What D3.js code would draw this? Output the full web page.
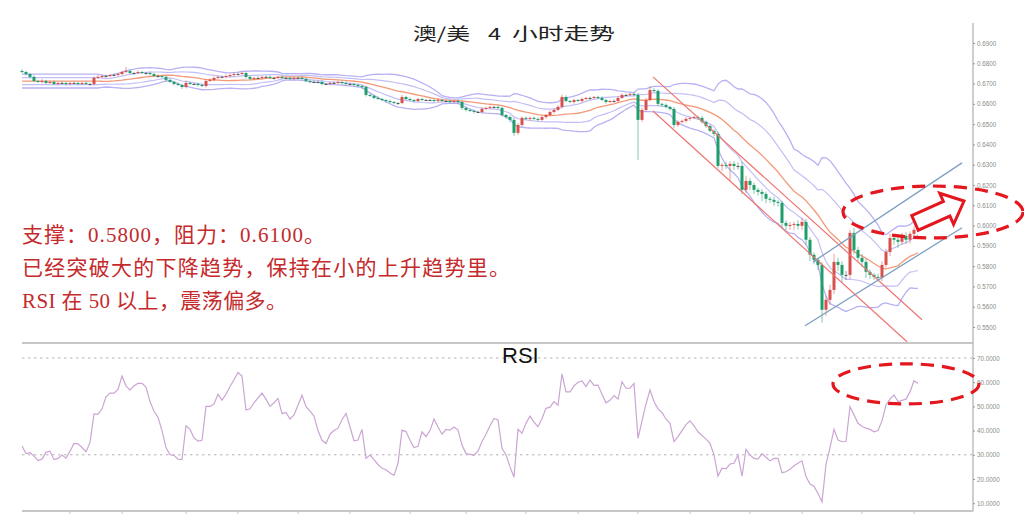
<!DOCTYPE html>
<html><head><meta charset="utf-8">
<script src="https://cdn.jsdelivr.net/npm/d3@7"></script>
<style>
html,body{margin:0;padding:0;background:#fff;}
svg{display:block;}
</style></head><body>
<svg id="c" width="1024" height="514"></svg>
<script>
// ---------- data ----------
const titleParts = ["澳/美", "4", "小时走势"];
const notes = ["支撑：0.5800，阻力：0.6100。", "已经突破大的下降趋势，保持在小的上升趋势里。", "RSI 在 50 以上，震荡偏多。"];
const rsiLabel = "RSI";
const priceTicks = [0.55,0.56,0.57,0.58,0.59,0.60,0.61,0.62,0.63,0.64,0.65,0.66,0.67,0.68,0.69];
const rsiTicks = [10,20,30,40,50,60,70];
const rsiLevels = [30,70];
const firstOpen = 0.6762;
const closes = [
.6757,.6747,.6733,.6713,.6708,.6713,.6703,.6708,.6698,.6703,.6703,.6698,.6703,.6703,.6698,
.6703,.6698,.6698,.6728,.6733,.6737,.6737,.6742,.6742,.6747,.6757,.6762,.6752,.6752,.6757,
.6752,.6752,.6747,.6737,.6737,.6733,.6718,.6708,.6698,.6693,.6683,.6703,.6698,.6698,.6693,
.6688,.6713,.6718,.6728,.6733,.6733,.6737,.6742,.6747,.6747,.6752,.6733,.6723,.6728,.6728,
.6733,.6733,.6728,.6728,.6733,.6728,.6728,.6723,.6728,.6728,.6723,.6713,.6708,.6708,.6708,
.6698,.6698,.6703,.6703,.6708,.6703,.6698,.6698,.6693,.6688,.6683,.6644,.6639,.6629,.6624,
.6619,.6614,.6609,.6604,.6604,.6634,.6624,.6619,.6614,.6624,.6619,.6619,.6619,.6614,.6619,
.6614,.6614,.6609,.6614,.6609,.6580,.6570,.6565,.6560,.6560,.6575,.6580,.6585,.6585,.6580,
.6545,.6535,.6521,.6457,.6496,.6531,.6526,.6531,.6526,.6521,.6535,.6545,.6560,.6570,.6585,
.6634,.6614,.6609,.6619,.6614,.6624,.6629,.6629,.6634,.6629,.6619,.6609,.6614,.6614,.6629,
.6644,.6644,.6649,.6644,.6521,.6570,.6619,.6668,.6664,.6600,.6595,.6585,.6575,.6496,.6511,
.6516,.6526,.6531,.6535,.6531,.6511,.6491,.6467,.6452,.6294,.6299,.6294,.6304,.6294,.6294,
.6176,.6220,.6200,.6176,.6166,.6156,.6132,.6127,.6117,.6112,.6013,.5999,.6003,.6008,.5999,
.6018,.5930,.5856,.5831,.5806,.5585,.5634,.5683,.5821,.5806,.5757,.5757,.5964,.5880,.5841,
.5821,.5772,.5757,.5747,.5742,.5806,.5870,.5939,.5930,.5920,.5949,.5930,.5959,.5979,.6003];
// wick lengths beyond the body, in pips
const upperWick = [
8,6,5,7,6,9,5,6,7,5,8,6,5,7,6,
5,7,6,8,9,6,7,5,8,6,6,20,7,6,8,
6,5,7,6,8,5,7,6,5,8,6,12,7,5,6,
7,9,8,6,7,5,8,6,7,9,6,5,7,6,8,
6,5,7,6,5,8,6,7,5,6,7,6,5,8,6,
7,5,6,8,6,5,7,6,5,8,6,7,5,6,8,
6,5,7,6,5,10,6,8,5,7,6,5,7,6,8,
5,6,7,5,6,8,6,5,7,6,9,6,7,5,8,
7,6,8,10,9,8,6,5,7,6,8,6,7,9,10,
12,8,6,7,5,8,6,7,5,6,9,7,6,8,10,
8,6,7,5,10,12,10,20,9,8,6,7,5,10,8,
7,9,6,8,7,10,6,8,7,12,10,15,12,14,16,
20,25,15,12,10,14,12,10,15,8,10,12,14,10,18,
20,15,14,12,10,15,20,25,40,20,18,20,15,25,15,
20,15,12,10,15,18,15,20,15,20,15,18,12,15,10];
const lowerWick = [
6,8,7,5,6,8,7,5,6,7,5,8,6,5,7,
6,5,7,8,6,5,7,6,5,8,6,7,5,6,7,
5,7,6,5,8,6,7,5,8,6,9,7,5,6,8,
6,8,5,7,6,5,7,6,8,5,6,9,7,6,5,
7,6,5,8,6,7,5,6,8,7,5,6,7,6,5,
8,6,7,5,6,8,7,5,6,7,10,8,6,7,5,
6,8,7,5,9,6,7,5,8,6,7,5,6,8,7,
6,5,7,6,8,10,7,6,8,5,7,6,5,8,6,
8,10,12,15,10,7,6,8,5,7,6,8,5,7,6,
8,7,6,8,5,7,6,8,5,7,6,8,5,7,6,
5,7,6,8,197,10,8,6,7,12,10,8,9,15,10,
8,7,10,6,9,8,10,7,12,10,25,15,70,20,18,
20,15,25,20,18,35,22,15,20,18,25,22,20,24,18,
20,25,30,22,25,64,30,25,20,30,35,25,20,22,18,
25,30,20,15,18,15,12,20,25,30,15,20,18,12,10];
const rsi = [
33.6,30.5,30.9,29.5,27.6,28.2,31,31.5,28,28.5,29.9,28.6,31.5,34.7,34.5,
33,31.3,35,46.9,46.7,49,54,55.5,55.5,57,62.5,58.5,56.8,58.5,59.5,
59.5,58,52,48,45.5,40,33,30,29.8,28.2,28,42,40.5,37,35.7,
36,50,50,51,55,52.6,55,58.2,61,64,62.5,48.5,49,51.5,53.5,
55.5,53,50,51.5,53.3,47,47.5,44.8,46.5,50.5,54.6,50,48,46,40,
36,34.7,38.5,40,41,44.5,47.1,41.5,35.8,36.1,40.5,28.5,29.9,28,26,
24.4,23.8,22.5,21.5,26.5,40.2,39.6,36,33,33.5,39.5,37.5,40,44.8,41.5,
38.5,40.5,40.2,41.5,40.2,34,30.5,30.2,29.8,31.5,35.5,38.5,42,45,44.4,
32.7,30,25,20.7,40.5,38.9,43,46,43.5,41.6,45,49.2,49.7,52,50.5,
63.4,56,56,58.5,60,60.5,58.2,60.9,58.7,58.8,55,51.5,52.5,54.5,53,
60.2,57.5,57.5,59.5,36.8,44,51,56.8,52,49,47.5,44.7,43,35.4,37.5,
40,42.5,44,42,39.5,38,36.5,34.7,30,21.2,24.5,24.2,26.2,26.5,29.9,
21.2,32.3,29.9,28.5,28.2,30.5,29,27.5,28.5,28.5,22.6,23,24,25.5,26.5,
27.5,21,17.9,17,14,10.6,26,33,40.5,36.1,35.4,35.5,49.9,46.5,43,
41.8,41,40.5,39.5,40,44,50.6,53,54.7,52,52.5,53,56,60.6,59.5];
const timeTicks = [12,25,41,54,69,82,97,111,126,139,154,167,182,195,210,223];
const bbPeriod = 20;
// drawn annotations, in (bar index, price / rsi) terms
const channelDown = [[[157.75,0.6733],[225,0.5536]], [[157.75,0.6565],[221.25,0.5427]]];
const channelUp = [[[197.75,0.5821],[235,0.6309]], [[195.75,0.5506],[235,0.5989]]];
const focusPrice = {cx:227.75, cy:0.6067, rx:22.5, ry:0.0128};
const focusRsi = {cx:221, cy:59.3, rx:18.25, ry:8.3};
const arrowPts = [[223.25,0.6013],[235.5,0.6121]];

// ---------- layout ----------
const L = 22, R = 918, AX = 973, TOP = 23, SEP = 343, BOT = 511;
const svg = d3.select("#c");
const N = closes.length;
const x = d3.scaleLinear().domain([0, N-1]).range([L, R]);
const y = d3.scaleLinear().domain([0.55, 0.69]).range([327, 43]);
const yr = d3.scaleLinear().domain([10, 70]).range([503.2, 358]);
const pip = 0.0001;

const bars = closes.map((c,i)=>{
  const o = i ? closes[i-1] : firstOpen;
  return {i, o, c, h: Math.max(o,c)+upperWick[i]*pip, l: Math.min(o,c)-lowerWick[i]*pip};
});

// Bollinger bands (1 and 2 sigma) from closes
const bb = closes.map((c,i)=>{
  const a = Math.max(0, i-bbPeriod+1), b = Math.max(i+1, Math.min(bbPeriod, N));
  const w = closes.slice(a, b);
  const m = d3.mean(w), s = Math.sqrt(d3.mean(w, v=>(v-m)*(v-m)));
  return {i, m, s};
});

// ---------- frame ----------
const frame = svg.append("g").attr("stroke","#b4b4b4").attr("fill","none");
frame.append("line").attr("x1",AX).attr("x2",AX).attr("y1",TOP).attr("y2",BOT).attr("stroke-width",1.3);
frame.append("line").attr("x1",L).attr("x2",AX).attr("y1",SEP).attr("y2",SEP).attr("stroke-width",1.6);
frame.append("line").attr("x1",L).attr("x2",AX).attr("y1",BOT).attr("y2",BOT).attr("stroke-width",1.6);
svg.append("g").selectAll("line").data(timeTicks).join("line")
  .attr("x1",d=>x(d)).attr("x2",d=>x(d)).attr("y1",BOT).attr("y2",BOT+3)
  .attr("stroke","#c4c4c4").attr("stroke-width",1);

// ---------- axes ----------
function styleAxis(g){
  g.select(".domain").remove();
  g.selectAll(".tick line").attr("stroke","#9a9a9a");
  g.selectAll(".tick text").attr("fill","#8c8c8c").style("font-family","'Liberation Sans',Arial,sans-serif").style("font-size","6.3px");
}
svg.append("g").attr("transform",`translate(${AX},0)`)
  .call(d3.axisRight(y).tickValues(priceTicks).tickFormat(d3.format(".4f")).tickSize(2).tickPadding(2))
  .call(styleAxis);
svg.append("g").attr("transform",`translate(${AX},0)`)
  .call(d3.axisRight(yr).tickValues(rsiTicks).tickFormat(d3.format(".4f")).tickSize(2).tickPadding(2))
  .call(styleAxis);

// ---------- bands ----------
const bandLines = [
  {k:2, color:"#b7b2f3", w:1.3}, {k:1, color:"#c3bff6", w:1.2},
  {k:-1, color:"#c3bff6", w:1.2}, {k:-2, color:"#b7b2f3", w:1.3},
  {k:0, color:"#f39a78", w:1.3}
];
const bandG = svg.append("g").attr("fill","none");
bandLines.forEach(b=>{
  bandG.append("path").datum(bb)
    .attr("d", d3.line().x(d=>x(d.i)).y(d=>y(d.m + b.k*d.s)))
    .attr("stroke", b.color).attr("stroke-width", b.w);
});

// ---------- candles ----------
const upC = "#d8504c", dnC = "#1f9d6b", flatC = "#4d5a55";
const col = d=> d.c>d.o ? upC : (d.c<d.o ? dnC : flatC);
const cg = svg.append("g");
cg.selectAll("line").data(bars).join("line")
  .attr("x1",d=>x(d.i)).attr("x2",d=>x(d.i)).attr("y1",d=>y(d.h)).attr("y2",d=>y(d.l))
  .attr("stroke",d=>col(d)).attr("stroke-opacity",0.55).attr("stroke-width",1);
cg.selectAll("rect").data(bars).join("rect")
  .attr("x",d=>x(d.i)-1.5).attr("width",3)
  .attr("y",d=>y(Math.max(d.o,d.c)))
  .attr("height",d=>Math.max(1, Math.abs(y(d.o)-y(d.c))))
  .attr("fill",d=>col(d));

// ---------- trend channels ----------
const tl = d3.line().x(d=>x(d[0])).y(d=>y(d[1]));
svg.append("g").selectAll("path").data(channelDown).join("path")
  .attr("d",tl).attr("fill","none").attr("stroke","#ef7470").attr("stroke-width",1.2);
svg.append("g").selectAll("path").data(channelUp).join("path")
  .attr("d",tl).attr("fill","none").attr("stroke","#7d9fc2").attr("stroke-width",1.3);

// ---------- RSI ----------
const lg = svg.append("g").attr("stroke","#b9b0b9").attr("stroke-dasharray","2.5,3.5").attr("stroke-width",1);
lg.selectAll("line").data(rsiLevels).join("line")
  .attr("x1",L).attr("x2",AX).attr("y1",d=>yr(d)).attr("y2",d=>yr(d));
svg.append("path").datum(rsi)
  .attr("d", d3.line().x((d,i)=>x(i)).y(d=>yr(d)))
  .attr("fill","none").attr("stroke","#cba5d3").attr("stroke-width",1.2);
svg.append("text").attr("x",502).attr("y",363).text(rsiLabel)
  .style("font-family","'Liberation Sans',Arial,sans-serif").style("font-size","22px").attr("fill","#111");

// ---------- annotations ----------
const red = "#e3171d";
function ell(sx, sy, e){
  svg.append("ellipse").attr("cx",sx(e.cx)).attr("cy",sy(e.cy))
    .attr("rx", sx(e.cx+e.rx)-sx(e.cx)).attr("ry", Math.abs(sy(e.cy-e.ry)-sy(e.cy)))
    .attr("fill","none").attr("stroke",red).attr("stroke-width",3.2).attr("stroke-dasharray","13,8");
}
ell(x, y, focusPrice);
ell(x, yr, focusRsi);
{
  const p0 = [x(arrowPts[0][0]), y(arrowPts[0][1])], p1 = [x(arrowPts[1][0]), y(arrowPts[1][1])];
  const len = Math.hypot(p1[0]-p0[0], p1[1]-p0[1]);
  const ang = Math.atan2(p1[1]-p0[1], p1[0]-p0[0])*180/Math.PI;
  const sw = 8, hw = 17, hl = 19;
  const pts = [[0,-sw],[len-hl,-sw],[len-hl,-hw],[len,0],[len-hl,hw],[len-hl,sw],[0,sw]];
  svg.append("polygon").attr("points", pts.map(p=>p.join(",")).join(" "))
    .attr("transform",`translate(${p0[0]},${p0[1]}) rotate(${ang})`)
    .attr("fill","#fff").attr("stroke",red).attr("stroke-width",3).attr("stroke-linejoin","miter");
}

// ---------- texts ----------
const titleX = [413, 488, 512], titleW = [57, 13, 103];
svg.append("g").selectAll("text").data(titleParts).join("text")
  .attr("x",(d,i)=>titleX[i]).attr("y",40).attr("textLength",(d,i)=>titleW[i]).attr("lengthAdjust","spacingAndGlyphs")
  .style("font-family","'Noto Sans CJK SC',sans-serif").style("font-size","17px").attr("fill","#222").text(d=>d);
const noteY = [241.5, 274.5, 307.5], noteW = [303, 488, 265];
svg.append("g").selectAll("text").data(notes).join("text")
  .attr("x",22).attr("y",(d,i)=>noteY[i]).attr("textLength",(d,i)=>noteW[i]).attr("lengthAdjust","spacing")
  .style("font-family","'Liberation Serif','Noto Sans CJK SC',serif").style("font-size","21px")
  .attr("fill","#c52a2c").text(d=>d);
</script>
</body></html>
